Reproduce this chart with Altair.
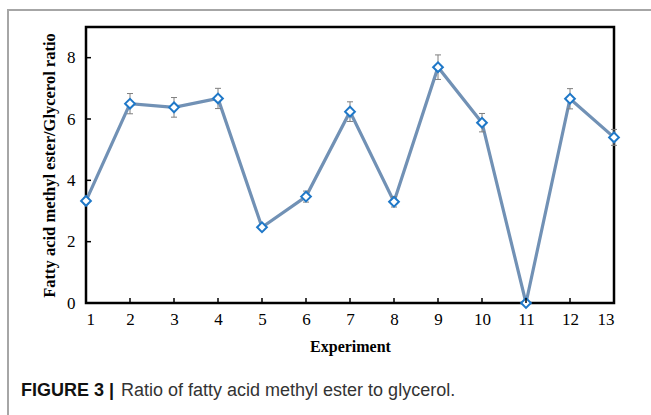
import altair as alt
import pandas as pd

experiments = list(range(1, 13 + 1))
ratio = [3.33, 6.50, 6.38, 6.67, 2.47, 3.47, 6.24, 3.30, 7.69, 5.88, 0.0, 6.66, 5.40]
error = [0.10, 0.33, 0.32, 0.33, 0.08, 0.18, 0.32, 0.17, 0.40, 0.30, 0.0, 0.33, 0.26]
x_ticks = list(range(2, 13))
y_ticks = [0, 2, 4, 6, 8]

df = pd.DataFrame({"exp": experiments, "ratio": ratio, "err": error})
df["lo"] = df["ratio"] - df["err"]
df["hi"] = df["ratio"] + df["err"]

W, H = 528, 276
xs = alt.Scale(domain=[1, 13], nice=False, zero=False)
ys = alt.Scale(domain=[0, 9], nice=False)

serif = "Liberation Serif"

x_enc = alt.X("exp:Q", scale=xs,
              axis=alt.Axis(values=experiments, title="Experiment", format="d",
                            domain=False, ticks=False, grid=False,
                            labelFont=serif, labelFontSize=17, labelColor="black",
                            labelPadding=8, titleFont=serif, titleFontSize=16,
                            titleFontWeight="bold", titleColor="black", titlePadding=11))
y_enc = alt.Y("ratio:Q", scale=ys,
              axis=alt.Axis(values=y_ticks, title="Fatty acid methyl ester/Glycerol ratio",
                            domain=False, ticks=False, grid=False,
                            labelFont=serif, labelFontSize=17, labelColor="black",
                            labelPadding=11, titleFont=serif, titleFontSize=16.5,
                            titleFontWeight="bold", titleColor="black", titlePadding=9))

base = alt.Chart(df)

line = base.mark_line(color="#7191b5", strokeWidth=3.2).encode(x=x_enc, y=y_enc)

err_v = base.mark_rule(color="#7f7f7f", strokeWidth=1).encode(
    x=alt.X("exp:Q", scale=xs), y=alt.Y("lo:Q", scale=ys), y2="hi:Q")
cap_hi = base.mark_rule(color="#7f7f7f", strokeWidth=1, xOffset=-3, x2Offset=3).encode(
    x=alt.X("exp:Q", scale=xs), x2="exp:Q", y=alt.Y("hi:Q", scale=ys))
cap_lo = base.mark_rule(color="#7f7f7f", strokeWidth=1, xOffset=-3, x2Offset=3).encode(
    x=alt.X("exp:Q", scale=xs), x2="exp:Q", y=alt.Y("lo:Q", scale=ys))

points = base.mark_point(shape="diamond", size=95, filled=True, fill="white",
                         stroke="#1f78c8", strokeWidth=2, opacity=1).encode(
    x=alt.X("exp:Q", scale=xs), y=alt.Y("ratio:Q", scale=ys))

xt = alt.Chart(pd.DataFrame({"t": x_ticks})).mark_rule(color="black", strokeWidth=1.5).encode(
    x=alt.X("t:Q", scale=xs), y=alt.value(H), y2=alt.value(H - 5))
yt = alt.Chart(pd.DataFrame({"t": y_ticks})).mark_rule(color="black", strokeWidth=1.5).encode(
    y=alt.Y("t:Q", scale=ys), x=alt.value(0), x2=alt.value(5))

frame_top = alt.Chart(pd.DataFrame({"a": [0]})).mark_rule(color="#a6a6a6", strokeWidth=2).encode(
    x=alt.value(-79), x2=alt.value(565), y=alt.value(-17))
frame_left = alt.Chart(pd.DataFrame({"a": [0]})).mark_rule(color="#a6a6a6", strokeWidth=2).encode(
    x=alt.value(-78), y=alt.value(-17), y2=alt.value(400))

cap_bold = alt.Chart(pd.DataFrame({"s": ["FIGURE 3 |"]})).mark_text(
    font="Liberation Sans", fontSize=18, fontWeight="bold", align="left", baseline="alphabetic",
    color="#111111").encode(text="s:N", x=alt.value(-65), y=alt.value(93 + H))
cap_reg = alt.Chart(pd.DataFrame({"s": ["Ratio of fatty acid methyl ester to glycerol."]})).mark_text(
    font="Liberation Sans", fontSize=18, align="left", baseline="alphabetic",
    color="#333333").encode(text="s:N", x=alt.value(35), y=alt.value(93 + H))

chart = alt.layer(line, err_v, cap_hi, cap_lo, points, xt, yt,
                  frame_top, frame_left, cap_bold, cap_reg).properties(
    width=W, height=H,
    autosize=alt.AutoSizeParams(type="none"),
    padding={"left": 86, "top": 27, "right": 37, "bottom": 112},
    background="white",
).configure_view(stroke="black", strokeWidth=2.5)

chart.save("out.html", embed_options={"renderer": "svg", "actions": False})
